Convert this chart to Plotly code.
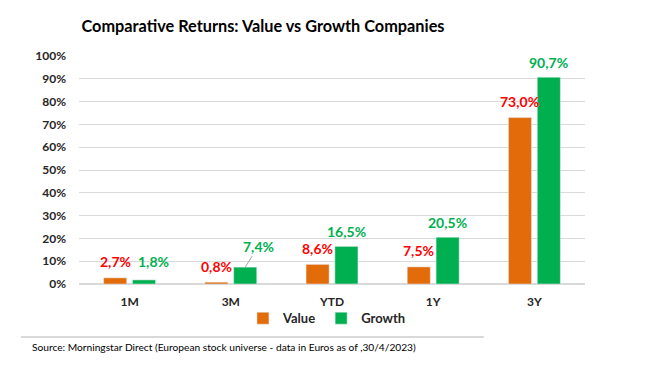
import plotly.graph_objects as go

categories = ["1M", "3M", "YTD", "1Y", "3Y"]
value_returns = [2.7, 0.8, 8.6, 7.5, 73.0]
growth_returns = [1.8, 7.4, 16.5, 20.5, 90.7]
tick_vals = [0, 10, 20, 30, 40, 50, 60, 70, 80, 90, 100]
tick_text = [f"{v}%" for v in tick_vals]

def fmt(v):
    return f"{v:.1f}%".replace(".", ",")

ORANGE = "#E36C0A"
GREEN = "#00B050"
RED = "#FF0000"
FONT = "Lato"

fig = go.Figure()
fig.add_trace(go.Bar(name="Value", x=categories, y=value_returns, marker_color=ORANGE))
fig.add_trace(go.Bar(name="Growth", x=categories, y=growth_returns, marker_color=GREEN))

lab_font_v = dict(color=RED, size=14, family=FONT, weight="bold")
lab_font_g = dict(color=GREEN, size=14, family=FONT, weight="bold")
annotations = []
for i, c in enumerate(categories):
    annotations.append(dict(x=c, y=value_returns[i], text=fmt(value_returns[i]), showarrow=False,
                            xshift=-14.5, yshift=16, font=lab_font_v))
    if c == "3M":
        annotations.append(dict(x=c, y=growth_returns[i], text=fmt(growth_returns[i]), showarrow=True,
                                xshift=14.5, ax=13, ay=-21, arrowhead=0, arrowwidth=1, arrowcolor="#A6A6A6",
                                standoff=0, font=lab_font_g))
    elif c == "1M":
        annotations.append(dict(x=c, y=value_returns[i], text=fmt(growth_returns[i]), showarrow=False,
                                xshift=24, yshift=16, font=lab_font_g))
    else:
        annotations.append(dict(x=c, y=growth_returns[i], text=fmt(growth_returns[i]), showarrow=False,
                                xshift=14.5, yshift=15, font=lab_font_g))

annotations.append(dict(xref="paper", yref="paper", x=-0.097, y=-0.278, xanchor="left", yanchor="middle",
                        text="Source: Morningstar Direct (European stock universe - data in Euros as of ,30/4/2023)",
                        showarrow=False, font=dict(size=10.2, family=FONT, color="#000000")))

fig.update_layout(
    width=647, height=371,
    margin=dict(l=71, r=70, t=48, b=95, autoexpand=False),
    paper_bgcolor="white", plot_bgcolor="white",
    title=dict(text="<b>Comparative Returns: Value vs Growth Companies</b>", x=255 / 647, xanchor="center",
               y=1 - 18 / 371, yanchor="middle", font=dict(size=16.3, family=FONT, color="#000000")),
    barmode="group", bargap=0.43, bargroupgap=0.2,
    font=dict(family=FONT, color="#262626"),
    legend=dict(orientation="h", x=0.49, xanchor="center", y=-0.15, yanchor="middle",
                bgcolor="rgba(0,0,0,0)",
                font=dict(size=13, family=FONT, color="#262626", weight="bold"),
                itemwidth=30, traceorder="normal"),
    annotations=annotations,
    shapes=[dict(type="line", xref="paper", yref="paper", x0=-0.115, x1=0.80, y0=-0.232, y1=-0.232,
                 line=dict(color="#D9D9D9", width=2))],
)
fig.update_yaxes(range=[0, 100], tickvals=tick_vals, ticktext=tick_text, showgrid=True,
                 gridcolor="#D9D9D9", gridwidth=1, zeroline=True, zerolinecolor="#D9D9D9",
                 tickfont=dict(size=12, family=FONT, color="#262626", weight="bold"), ticks="", ticklabelstandoff=12)
fig.update_xaxes(showline=False, ticks="", tickfont=dict(size=12, family=FONT, color="#262626", weight="bold"),
                 ticklabelstandoff=9)

fig.write_html("out.html")
